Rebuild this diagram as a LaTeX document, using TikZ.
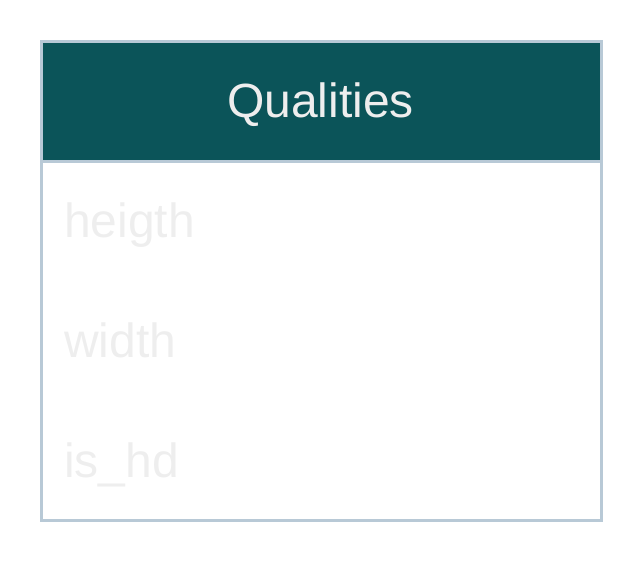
\documentclass[tikz,border=0pt]{standalone}
\usepackage{fontspec}
\setmainfont{Liberation Sans}
\definecolor{headbg}{HTML}{0B5459}
\definecolor{frame}{HTML}{B8C9D6}
\definecolor{txt}{HTML}{EEEEEE}
\begin{document}
\begin{tikzpicture}[x=1pt,y=-1pt,
  rowtext/.style={anchor=base west, inner sep=0pt, text=txt, font=\fontsize{48}{50}\selectfont},
  headtext/.style={anchor=base, inner sep=0pt, text=txt, font=\fontsize{48}{50}\selectfont}]
\useasboundingbox (0,0) rectangle (644,564);
\fill[headbg] (41.5,41.5) rectangle (601.5,161.5);
\draw[frame, line width=3.5pt] (41.5,41.5) rectangle (601.5,520.5);
\draw[frame, line width=3.5pt] (41.5,161.5) -- (601.5,161.5);
\node[headtext] (title) at (320.5,118) {Qualities};
\node[rowtext] (r1) at (64,237) {heigth};
\node[rowtext] (r2) at (64,357) {width};
\node[rowtext] (r3) at (64,477) {is\_hd};
\end{tikzpicture}
\end{document}
